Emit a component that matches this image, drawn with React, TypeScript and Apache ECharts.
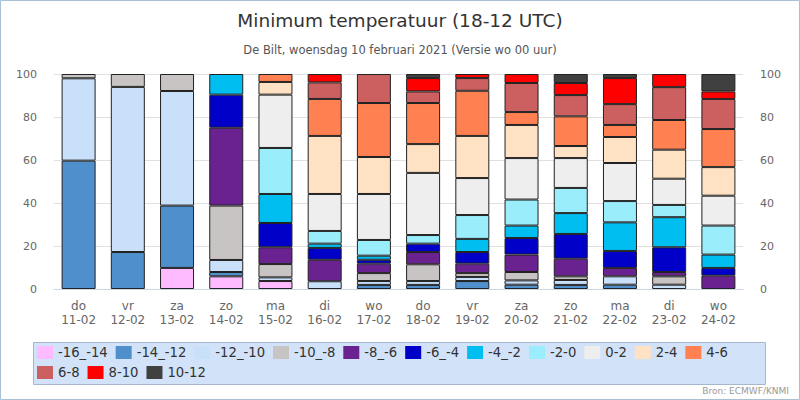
import { useEffect, useRef } from 'react';
import * as echarts from 'echarts';

const days = ['do', 'vr', 'za', 'zo', 'ma', 'di', 'wo', 'do', 'vr', 'za', 'zo', 'ma', 'di', 'wo'];
const dates = ['11-02', '12-02', '13-02', '14-02', '15-02', '16-02', '17-02', '18-02', '19-02', '20-02', '21-02', '22-02', '23-02', '24-02'];

const classNames = ['-16_-14', '-14_-12', '-12_-10', '-10_-8', '-8_-6', '-6_-4', '-4_-2', '-2-0', '0-2', '2-4', '4-6', '6-8', '8-10', '10-12'];
const classColors = ['#ffbbff', '#4f8fcc', '#c8e0fa', '#c8c4c4', '#6a2290', '#0000c8', '#00bff0', '#9aeefc', '#eeeeee', '#ffe2c4', '#ff8050', '#cc5f5f', '#ff0000', '#404040'];

// percentage per temperature class (rows) for each day (columns)
const pM16 = [0, 0, 9.8, 5.9, 3.7, 0, 0, 0, 0, 0, 0, 0, 0, 0];
const pM14 = [59.7, 17.2, 29, 2, 0, 0, 1.9, 1.9, 3.7, 2, 1.9, 2, 0, 0];
const pM12 = [38.3, 76.8, 53.3, 5.6, 1.7, 3.6, 1.8, 1.8, 1.9, 2, 2.3, 3.9, 2, 0];
const pM10 = [2, 6, 7.9, 25.3, 6.2, 0, 3.7, 7.8, 1.8, 3.9, 1.7, 0, 3.9, 0];
const pM8 = [0, 0, 0, 36.2, 7.8, 10, 4.4, 5.7, 4.4, 8.1, 8.2, 3.9, 2, 6.2];
const pM6 = [0, 0, 0, 15.4, 11.3, 5.5, 1.8, 3.9, 5.4, 7.7, 11.5, 7.9, 11.5, 3.6];
const pM4 = [0, 0, 0, 9.6, 13.5, 2, 1.9, 0, 6.1, 5.8, 9.7, 13.3, 14, 6.2];
const pM2 = [0, 0, 0, 0, 21.4, 5.9, 7.3, 4, 11.1, 12.1, 11.7, 9.9, 5.7, 13.5];
const p0 = [0, 0, 0, 0, 24.8, 17.2, 21.4, 28.9, 17.2, 19.3, 13.9, 17.7, 12.2, 13.9];
const p2 = [0, 0, 0, 0, 5.9, 27, 17.2, 13.4, 19.6, 15.4, 5.6, 12.1, 13.5, 13.3];
const p4 = [0, 0, 0, 0, 3.7, 17.2, 25.1, 19.1, 21, 6, 13.8, 5.6, 13.8, 17.7];
const p6 = [0, 0, 0, 0, 0, 7.7, 13.5, 5.4, 5.9, 13.5, 9.9, 9.7, 15.3, 14];
const p8 = [0, 0, 0, 0, 0, 3.9, 0, 6.2, 1.9, 4.2, 5.6, 12.1, 6.1, 3.5];
const p10 = [0, 0, 0, 0, 0, 0, 0, 1.9, 0, 0, 4.2, 1.9, 0, 8.1];

const classValues = [pM16, pM14, pM12, pM10, pM8, pM6, pM4, pM2, p0, p2, p4, p6, p8, p10];

const FONT = "'DejaVu Sans', sans-serif";

export default function App() {
  const chartRef = useRef<HTMLDivElement>(null);

  useEffect(() => {
    if (!chartRef.current) return;
    const chart = echarts.init(chartRef.current, null, { renderer: 'svg' });

    const categories = days.map((d, i) => `${d}\n${dates[i]}`);

    const legendBase = {
      left: 32,
      itemWidth: 16,
      itemHeight: 13,
      itemGap: 8,
      icon: 'rect',
      itemStyle: { borderWidth: 0 },
      textStyle: { fontSize: 13.2, color: '#333333', fontFamily: FONT }
    };

    const option: echarts.EChartsOption = {
      animation: false,
      backgroundColor: '#ffffff',
      textStyle: { fontFamily: FONT },
      title: [
        {
          text: 'Minimum temperatuur (18-12 UTC)',
          left: 'center',
          top: 6,
          textStyle: { fontSize: 18.5, fontWeight: 'normal', color: '#333333', fontFamily: FONT }
        },
        {
          text: 'De Bilt, woensdag 10 februari 2021 (Versie wo 00 uur)',
          left: 'center',
          top: 39,
          textStyle: { fontSize: 11.5, fontWeight: 'normal', color: '#555555', fontFamily: FONT }
        }
      ],
      graphic: [
        {
          type: 'rect',
          shape: { x: 0.5, y: 0.5, width: 799, height: 399 },
          style: { fill: 'none', stroke: '#a8bfd4', lineWidth: 1 },
          silent: true
        },
        {
          type: 'rect',
          shape: { x: 33.5, y: 342.5, width: 732, height: 42 },
          style: { fill: '#d2e2f8', stroke: '#a6b6cc', lineWidth: 1 },
          silent: true,
          z: -1
        },
        {
          type: 'text',
          right: 11,
          top: 386,
          style: { text: 'Bron: ECMWF/KNMI', fill: '#999999', fontSize: 9, fontFamily: FONT }
        }
      ],
      legend: [
        { ...legendBase, data: classNames.slice(0, 11), top: 341 },
        { ...legendBase, data: classNames.slice(11), top: 361 }
      ],
      grid: { left: 54, right: 57, top: 74, bottom: 111, containLabel: false },
      xAxis: {
        type: 'category',
        data: categories,
        axisLine: { lineStyle: { color: '#ccd6eb' } },
        axisTick: { alignWithLabel: true, length: 8, lineStyle: { color: '#ccd6eb' } },
        axisLabel: { fontSize: 12, color: '#666666', lineHeight: 14, margin: 10, fontFamily: FONT }
      },
      yAxis: [
        {
          type: 'value',
          min: 0,
          max: 100,
          interval: 20,
          axisLine: { show: false },
          axisTick: { show: false },
          splitLine: { lineStyle: { color: '#e0e0e0' } },
          axisLabel: { fontSize: 11, color: '#666666', margin: 17, fontFamily: FONT }
        },
        {
          type: 'value',
          min: 0,
          max: 100,
          interval: 20,
          position: 'right',
          axisLine: { show: false },
          axisTick: { show: false },
          splitLine: { show: false },
          axisLabel: { fontSize: 11, color: '#666666', margin: 17, fontFamily: FONT }
        }
      ],
      series: classNames.map((name, k) => ({
        name,
        type: 'bar',
        stack: 'total',
        barWidth: 34,
        itemStyle: { color: classColors[k], borderColor: '#222222', borderWidth: 1 },
        emphasis: { disabled: true },
        data: classValues[k].map((v) => (v === 0 ? '-' : v))
      }))
    };

    chart.setOption(option);
    return () => chart.dispose();
  }, []);

  return (
    <div
      ref={chartRef}
      style={{ position: 'absolute', left: 0, top: 0, width: '800px', height: '400px' }}
    />
  );
}
